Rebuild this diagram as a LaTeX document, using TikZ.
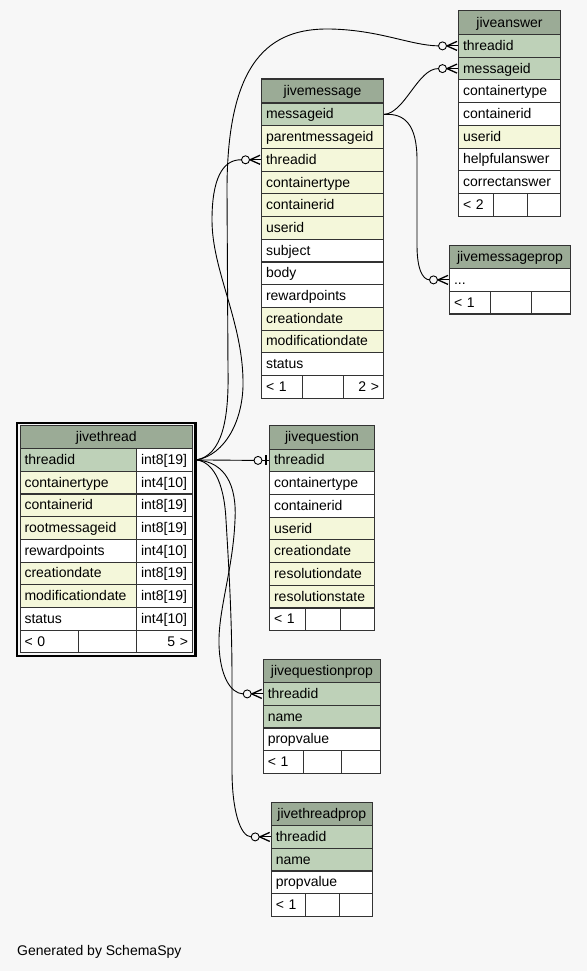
\documentclass[tikz,border=0pt]{standalone}
\usepackage{fontspec}
\setmainfont{Liberation Sans}
\usetikzlibrary{fit}
\definecolor{bgc}{HTML}{F7F7F7}
\definecolor{hdc}{HTML}{9BAB96}
\definecolor{pkc}{HTML}{BED1B8}
\definecolor{ixc}{HTML}{F4F7DA}
\newcommand{\tabfont}{\fontsize{14}{16}\selectfont}
\tikzset{
  cellbox/.style={draw=black!80, line width=1.1pt, anchor=north west, inner xsep=4.5pt, inner ysep=0pt,
    minimum height=22.7pt, text height=11pt, text depth=2pt, font=\tabfont, text=black},
  edge/.style={line width=0.9pt, draw=black},
  crowl/.style={line width=1.3pt, draw=black, line join=miter},
}
\newcommand{\tcell}[7]{%
  \pgfmathsetlengthmacro{\tcw}{#4-9}%
  \node[cellbox, fill=#5, text width=\tcw, align=#7] (#1) at (#2,#3) {#6};%
}
\newcommand{\trows}[5]{%
  \foreach \cn/\cf [count=\ci from 0] in {#5} {%
    \pgfmathsetmacro{\yy}{#4+\ci*22.7}%
    \tcell{#1-\cn}{#2}{\yy}{#3}{\cf}{\cn}{left}%
  }%
}
\newcommand{\tfoot}[8]{%
  \pgfmathsetmacro{\wa}{#4-#3}\pgfmathsetmacro{\wb}{#5-#4}\pgfmathsetmacro{\wc}{#6-#5}%
  \tcell{#1-f1}{#3}{#2}{\wa}{white}{#7}{left}%
  \tcell{#1-f2}{#4}{#2}{\wb}{white}{}{left}%
  \tcell{#1-f3}{#5}{#2}{\wc}{white}{#8}{right}%
}
\newcommand{\crowend}[1]{%
  \draw[edge] ([xshift=-11.5pt]#1.west) -- (#1.west);%
  \draw[crowl] ([xshift=-1pt,yshift=4.5pt]#1.west) -- ([xshift=-11pt]#1.west) -- ([xshift=-1pt,yshift=-4.5pt]#1.west);%
  \draw[edge, fill=bgc] ([xshift=-15.5pt]#1.west) circle (4pt);%
  \coordinate (#1-e) at ([xshift=-19.5pt]#1.west);%
}
\begin{document}
\begin{tikzpicture}[x=1pt, y=-1pt]
\useasboundingbox (0,0) rectangle (587,971);
\fill[bgc] (0,0) rectangle (587,971);

% jivethread
\tcell{jt-h}{19.5}{425}{172.5}{hdc, minimum height=23pt}{jivethread}{center}
\foreach \cn/\cf/\ct [count=\ci from 0] in {threadid/pkc/int8[19],containertype/ixc/int4[10],containerid/ixc/int8[19],rootmessageid/ixc/int8[19],rewardpoints/white/int4[10],creationdate/ixc/int8[19],modificationdate/ixc/int8[19],status/white/int4[10]} {
  \pgfmathsetmacro{\yy}{448+\ci*22.7}
  \tcell{jt-\cn}{19.5}{\yy}{116.5}{\cf}{\cn}{left}
  \tcell{jt-\cn-t}{136}{\yy}{56}{white}{\ct}{left}
}
\tfoot{jt}{629.6}{19.5}{78}{136}{192}{< 0}{5 >}
\node[draw=black, line width=2.2pt, fit=(jt-h)(jt-f3), inner sep=2.3pt] (jt-frame) {};
\coordinate (jtout) at ([xshift=3.5pt]jt-threadid-t.east);

% jivemessage
\tcell{jm-h}{261}{78.5}{122}{hdc, minimum height=24pt}{jivemessage}{center}
\trows{jm}{261}{122}{102.5}{messageid/pkc,parentmessageid/ixc,threadid/ixc,containertype/ixc,containerid/ixc,userid/ixc,subject/white,body/white,rewardpoints/white,creationdate/ixc,modificationdate/ixc,status/white}
\tfoot{jm}{374.9}{261}{302}{343}{383}{< 1}{2 >}

% jiveanswer
\tcell{ja-h}{458}{10}{102}{hdc, minimum height=24pt}{jiveanswer}{center}
\trows{ja}{458}{102}{34}{threadid/pkc,messageid/pkc,containertype/white,containerid/white,userid/ixc,helpfulanswer/white,correctanswer/white}
\tfoot{ja}{192.9}{458}{492.7}{526.7}{560}{< 2}{}

% jivemessageprop
\tcell{jp-h}{449}{245}{121}{hdc, minimum height=23pt}{jivemessageprop}{center}
\tcell{jp-dots}{449}{268}{121}{white}{...}{left}
\tfoot{jp}{290.7}{449}{490}{530.7}{570}{< 1}{}

% jivequestion
\tcell{jq-h}{269}{425}{105}{hdc, minimum height=23.5pt}{jivequestion}{center}
\trows{jq}{269}{105}{448.5}{threadid/pkc,containertype/white,containerid/white,userid/ixc,creationdate/ixc,resolutiondate/ixc,resolutionstate/ixc}
\tfoot{jq}{607.4}{269}{305}{340}{374}{< 1}{}

% jivequestionprop
\tcell{jqp-h}{262.7}{659}{117.3}{hdc, minimum height=23pt}{jivequestionprop}{center}
\trows{jqp}{262.7}{117.3}{682}{threadid/pkc,name/pkc,propvalue/white}
\tfoot{jqp}{750.1}{262.7}{302.7}{341}{380}{< 1}{}

% jivethreadprop
\tcell{jtp-h}{270.7}{802}{101}{hdc, minimum height=23pt}{jivethreadprop}{center}
\trows{jtp}{270.7}{101}{825}{threadid/pkc,name/pkc,propvalue/white}
\tfoot{jtp}{893.1}{270.7}{305}{339}{371.7}{< 1}{}

% connector ends
\crowend{ja-threadid}
\crowend{ja-messageid}
\crowend{jm-threadid}
\crowend{jp-dots}
\crowend{jqp-threadid}
\crowend{jtp-threadid}

% jivethread -> jivequestion (zero or one)
\draw[edge, fill=bgc] ([xshift=-11pt]jq-threadid.west) circle (4pt);
\coordinate (jq-threadid-e) at ([xshift=-15pt]jq-threadid.west);
\draw[edge] ([xshift=-7pt]jq-threadid.west) -- (jq-threadid.west);
\draw[line width=2.6pt] ([xshift=-3pt,yshift=5pt]jq-threadid.west) -- ([xshift=-3pt,yshift=-5pt]jq-threadid.west);
\draw[edge] (jtout) -- (jq-threadid-e);

% curves from jivethread.threadid
\draw[edge] (jtout) .. controls (222,455) and (229,420) .. (228,370) -- (227,190)
  .. controls (227,60) and (270,28) .. (330,29) .. controls (380,30) and (410,45.35) .. (ja-threadid-e);
\draw[edge] (jtout) .. controls (225,455) and (244,420) .. (243,380)
  .. controls (242,320) and (212,270) .. (212,220) .. controls (212,180) and (222,159.25) .. (jm-threadid-e);
\draw[edge] (jtout) .. controls (225,462) and (237,485) .. (235,520)
  .. controls (233,570) and (218,610) .. (219,645) .. controls (220,675) and (230,693.35) .. (jqp-threadid-e);
\draw[edge] (jtout) .. controls (212,462) and (224,480) .. (226,520)
  .. controls (229,570) and (232,620) .. (232,680) -- (232,770) .. controls (232,810) and (240,836.35) .. (jtp-threadid-e);

% curves from jivemessage.messageid
\draw[edge] (jm-messageid.east) .. controls (405,113) and (418,68.05) .. (ja-messageid-e);
\draw[edge] (jm-messageid.east) .. controls (405,113) and (417,125) .. (417,160) -- (417,245)
  .. controls (417,268) and (422,279.35) .. (jp-dots-e);

\node[anchor=base west, font=\tabfont, inner sep=0pt] (gen) at (17,955) {Generated by SchemaSpy};
\end{tikzpicture}
\end{document}
